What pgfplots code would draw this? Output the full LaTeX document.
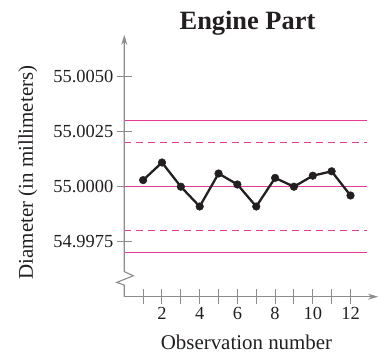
\documentclass[border=0pt]{standalone}
\usepackage{fontspec}
\setmainfont{Liberation Serif}
\usepackage{pgfplots}
\pgfplotsset{compat=1.18}
\usetikzlibrary{arrows.meta}
\definecolor{axgray}{HTML}{8C8C8C}
\definecolor{mag}{HTML}{E6399B}
\definecolor{ink}{HTML}{231F20}
\begin{document}
\begin{tikzpicture}[x=1bp,y=1bp]
\path[use as bounding box] (-124.3,-167.3) rectangle (255.7,186.7);
\begin{axis}[
  anchor=origin, at={(0,0)},
  x=18.85bp, y=2.2bp,
  xmin=0, xmax=13.46, ymin=-50, ymax=69,
  axis lines=left,
  clip=false,
  x axis line style={axgray, line width=1.1bp, -{Stealth[length=10bp,width=6bp]}},
  y axis line style={draw=none},
  xtick={1,2,3,4,5,6,7,8,9,10,11,12},
  xticklabels={,2,,4,,6,,8,,10,,12},
  ytick={-25,0,25,50},
  yticklabels={54.9975,55.0000,55.0025,55.0050},
  tick align=center,
  major tick length=15bp,
  tick style={axgray, line width=1bp},
  ticklabel style={font=\fontsize{18.5}{20}\selectfont, text=ink},
]
\addplot[mag, line width=1.4bp] coordinates {(0,30) (12.87,30)};
\addplot[mag, line width=1.4bp, dash pattern=on 7bp off 5bp] coordinates {(0,20) (12.87,20)};
\addplot[mag, line width=1.2bp] coordinates {(0,0) (12.87,0)};
\addplot[mag, line width=1.4bp, dash pattern=on 7bp off 5bp] coordinates {(0,-20) (12.87,-20)};
\addplot[mag, line width=1.4bp] coordinates {(0,-30) (12.87,-30)};
\draw[axgray, line width=1.1bp, -{Stealth[length=10bp,width=6bp]}] (axis cs:0,-50) -- (axis cs:0,-44.7) -- (axis cs:-0.40,-43.5) -- (axis cs:0.48,-40.5) -- (axis cs:0,-38.6) -- (axis cs:0,69);
\addplot[ink, line width=2.3bp, mark=*, mark size=3.8bp, mark options={fill=ink, line width=0.5bp}] coordinates {
(1,3) (2,11) (3,0) (4,-9) (5,6) (6,1) (7,-9) (8,4) (9,0) (10,5) (11,7) (12,-4)};
\end{axis}
\node[anchor=base, text=ink, font=\fontsize{26.5}{30}\selectfont\bfseries] at (123.2,157.4) {Engine Part};
\node[anchor=base, inner sep=0pt, text=ink, font=\fontsize{21}{24}\selectfont] at (122.2,-162.4) {Observation number};
\node[anchor=base, rotate=90, text=ink, font=\fontsize{21}{24}\selectfont] at (-91.3,14.2) {Diameter (in millimeters)};
\end{tikzpicture}
\end{document}
